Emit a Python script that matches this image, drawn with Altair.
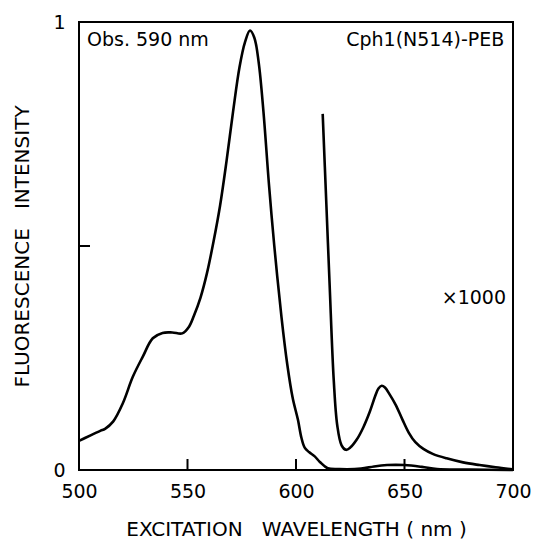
import altair as alt
import pandas as pd

# Main excitation spectrum (x1)
main_x = [500, 503, 506.5, 510, 512, 515.7, 520.2, 524.8, 529.4, 534, 538.5, 543, 547.6,
          550.7, 553, 556, 559, 562, 565, 568, 571, 574, 576.5, 578.8, 580.8, 582.8,
          585, 587.5, 590, 593.3, 596, 598.5, 600.9, 602.5, 604, 606, 608.5, 611,
          614.6, 620, 630, 636, 642, 650, 658, 665, 680, 700]
main_y = [0.065, 0.072, 0.080, 0.088, 0.092, 0.108, 0.149, 0.208, 0.253, 0.294, 0.306, 0.307, 0.305,
          0.320, 0.345, 0.385, 0.440, 0.510, 0.590, 0.690, 0.800, 0.900, 0.955, 0.981, 0.965, 0.910,
          0.800, 0.640, 0.500, 0.342, 0.235, 0.160, 0.112, 0.072, 0.050, 0.040, 0.031, 0.018,
          0.004, 0.002, 0.003, 0.008, 0.011, 0.011, 0.007, 0.002, 0.001, 0.0]

# Magnified trace (x1000)
mag_x = [612.3, 614, 615.5, 617.4, 619, 621, 623, 625, 628, 631, 634, 636.5, 638, 639.5, 641,
         643, 646, 649, 652, 655, 658.7, 663, 669.4, 677, 684.6, 692, 699.8]
mag_y = [0.795, 0.592, 0.413, 0.200, 0.100, 0.055, 0.045, 0.050, 0.068, 0.095, 0.130, 0.165, 0.182, 0.188, 0.184,
         0.170, 0.145, 0.113, 0.083, 0.062, 0.047, 0.036, 0.026, 0.017, 0.011, 0.006, 0.0015]

x_ticks = [550, 600, 650]
y_ticks = [0.5]

ann_text = ["Obs. 590 nm", "Cph1(N514)-PEB", "×1000"]
ann_x = [503.7, 696.0, 696.8]
ann_y = [0.96, 0.96, 0.384]
ann_align = ["left", "right", "right"]

FONT = "DejaVu Sans"

main_df = pd.DataFrame({"wl": main_x, "f": main_y, "s": "main"})
mag_df = pd.DataFrame({"wl": mag_x, "f": mag_y, "s": "x1000"})
lines_df = pd.concat([main_df, mag_df], ignore_index=True)

xscale = alt.Scale(domain=[500, 700], nice=False, zero=False)
yscale = alt.Scale(domain=[0, 1], nice=False, zero=False)

xaxis = alt.Axis(values=[500, 550, 600, 650, 700], title="EXCITATION\u00a0\u00a0\u00a0WAVELENGTH\u00a0(\u00a0nm\u00a0)",
                 ticks=False, tickSize=0, domain=False, grid=False, labelFlush=False,
                 labelFont=FONT, labelFontSize=19, labelColor="black", labelPadding=12,
                 titleFont=FONT, titleFontSize=20, titleFontWeight="normal", titleColor="black",
                 titlePadding=18)
yaxis = alt.Axis(values=[0, 0.5, 1], title="FLUORESCENCE\u00a0\u00a0\u00a0INTENSITY",
                 labelExpr="datum.value == 0.5 ? '' : (datum.value == 0 ? '0' : '1')",
                 ticks=False, tickSize=0, domain=False, grid=False, labelFlush=False,
                 labelFont=FONT, labelFontSize=19, labelColor="black", labelPadding=14,
                 titleFont=FONT, titleFontSize=20, titleFontWeight="normal", titleColor="black",
                 titlePadding=20)

lines = alt.Chart(lines_df).mark_line(color="black", strokeWidth=2.6, interpolate="catmull-rom").encode(
    x=alt.X("wl:Q", scale=xscale, axis=xaxis),
    y=alt.Y("f:Q", scale=yscale, axis=yaxis),
    detail="s:N",
)

xt = alt.Chart(pd.DataFrame({"wl": x_ticks})).mark_rule(color="black", strokeWidth=2).encode(
    x=alt.X("wl:Q", scale=xscale),
    y=alt.value(448), y2=alt.value(437),
)
yt = alt.Chart(pd.DataFrame({"f": y_ticks})).mark_rule(color="black", strokeWidth=2).encode(
    y=alt.Y("f:Q", scale=yscale),
    x=alt.value(0), x2=alt.value(11),
)

ann_df = pd.DataFrame({"t": ann_text, "wl": ann_x, "f": ann_y, "a": ann_align})
ann_left = alt.Chart(ann_df[ann_df.a == "left"]).mark_text(
    font=FONT, fontSize=19, align="left", baseline="middle", color="black").encode(
    x=alt.X("wl:Q", scale=xscale), y=alt.Y("f:Q", scale=yscale), text="t:N")
ann_right = alt.Chart(ann_df[ann_df.a == "right"]).mark_text(
    font=FONT, fontSize=19, align="right", baseline="middle", color="black").encode(
    x=alt.X("wl:Q", scale=xscale), y=alt.Y("f:Q", scale=yscale), text="t:N")

chart = alt.layer(lines, xt, yt, ann_left, ann_right).properties(
    width=434, height=448,
    autosize=alt.AutoSizeParams(type="none"),
    padding={"left": 71, "top": 14, "right": 18, "bottom": 73},
    background="white",
).configure_view(stroke="black", strokeWidth=2)

chart.save("out.html", embed_options={"renderer": "svg", "actions": False})
